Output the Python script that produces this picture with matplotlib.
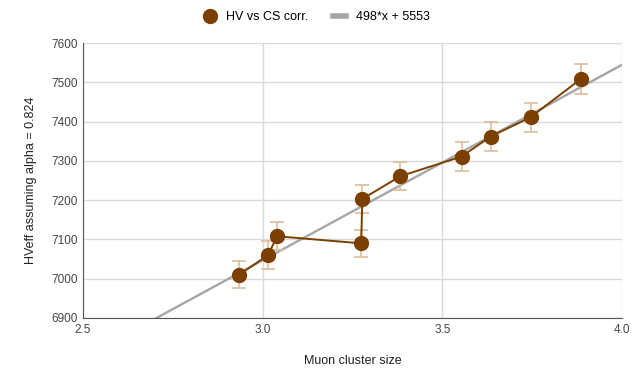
import matplotlib
matplotlib.use("Agg")
import matplotlib.pyplot as plt
from matplotlib.lines import Line2D
import numpy as np

plt.rcParams['font.family'] = ['Liberation Sans', 'DejaVu Sans']

# measured points
cluster_size = [2.934, 3.015, 3.040, 3.274, 3.277, 3.383, 3.553, 3.634, 3.745, 3.884]
hv_eff = [7010, 7060, 7108, 7090, 7203, 7261, 7311, 7362, 7411, 7508]
hv_err = [35, 35, 36, 35, 36, 36, 36, 37, 37, 38]

# linear fit
slope = 498
intercept = 5553
fit_x = np.array([2.5, 4.0])

fig, ax = plt.subplots(figsize=(6.33, 3.68), dpi=100)
fig.subplots_adjust(left=0.131, right=0.983, bottom=0.136, top=0.883)

ax.plot(fit_x, slope * fit_x + intercept, color="#a6a6a6", lw=1.7, zorder=2)
ax.errorbar(cluster_size, hv_eff, yerr=hv_err, color="#7b3f00", lw=1.4,
            marker="o", markersize=10, ecolor="#dcbc9c", elinewidth=1.2,
            capsize=5, capthick=1.2, zorder=3)

ax.set_xlim(2.5, 4.0)
ax.set_ylim(6900, 7600)
ax.set_xticks([2.5, 3.0, 3.5, 4.0])
ax.set_yticks(np.arange(6900, 7601, 100))
ax.grid(color="#d9d9d9", lw=1)
ax.set_axisbelow(True)
for s in ["top", "right"]:
    ax.spines[s].set_visible(False)
for s in ["left", "bottom"]:
    ax.spines[s].set_color("#555555")
ax.tick_params(length=0, labelsize=8.5, colors="#444444", pad=4)
ax.set_xlabel("Muon cluster size", fontsize=9, color="#222222", labelpad=14)
ax.set_ylabel("HVeff assuming alpha = 0.824", fontsize=9, color="#222222", labelpad=10)

handles = [Line2D([], [], color="#7b3f00", marker="o", markersize=10, ls="none"),
           Line2D([], [], color="#a6a6a6", lw=4)]
fig.legend(handles, ["HV vs CS corr.", "498*x + 5553"], loc="upper center",
           bbox_to_anchor=(0.5, 1.0), ncol=2, frameon=False, fontsize=9,
           handlelength=1.0, columnspacing=2.0, handletextpad=0.8)

fig.savefig("out.png", dpi=100)
